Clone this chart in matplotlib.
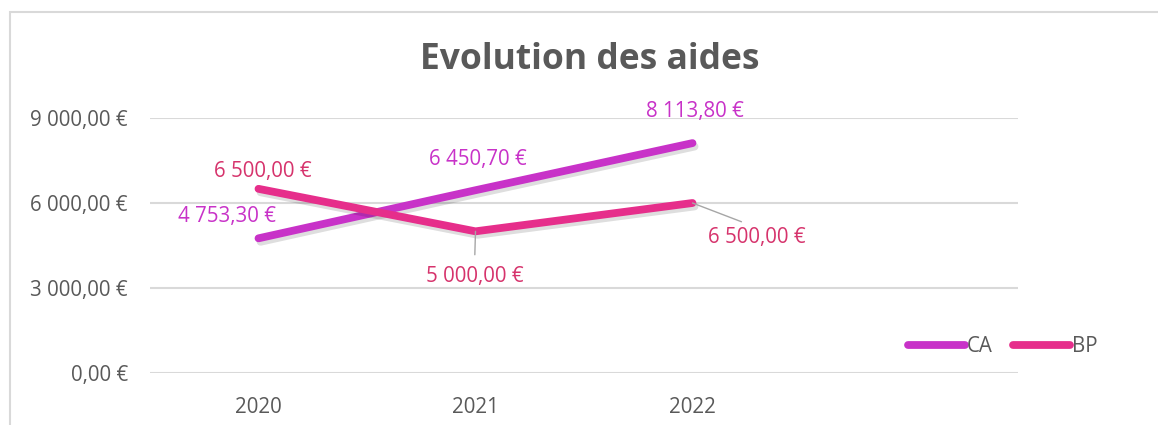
import matplotlib.pyplot as plt
import matplotlib.patheffects as pe
from matplotlib.patches import Rectangle
from matplotlib.ticker import FuncFormatter

# data
years = ["2020", "2021", "2022"]
ca_values = [4753.30, 6450.70, 8113.80]
bp_values = [6500.00, 5000.00, 6000.00]
ca_labels = ["4 753,30 €", "6 450,70 €", "8 113,80 €"]
bp_labels = ["6 500,00 €", "5 000,00 €", "6 500,00 €"]

ca_color = "#C832C8"
bp_color = "#E62E8B"
ca_text = "#C832C8"
bp_text = "#D6336C"
gray = "#595959"
grid = "#D9D9D9"

plt.rcParams['font.family'] = ['Open Sans', 'DejaVu Sans']

fig = plt.figure(figsize=(11.58, 4.25), dpi=100)
W, H = 1158, 425
ax = fig.add_axes([150 / W, (H - 373) / H, (1018 - 150) / W, (373 - 118) / H])

x = list(range(len(years)))
shadow = [pe.SimpleLineShadow(offset=(1.5, -2.5), shadow_color="k", alpha=0.13),
          pe.Normal()]
ax.plot(x, ca_values, color=ca_color, lw=5.6, solid_capstyle="round",
        label="CA", path_effects=shadow, zorder=3)
ax.plot(x, bp_values, color=bp_color, lw=5.6, solid_capstyle="round",
        label="BP", path_effects=shadow, zorder=3)

ax.set_xlim(-0.5, 3.5)
ax.set_ylim(0, 9000)
ax.set_yticks([0, 3000, 6000, 9000])
ax.set_xticks(x)
ax.set_xticklabels(years)


def euro(v, pos):
    s = f"{v:,.2f}".replace(",", " ").replace(".", ",")
    return s + " €"


fs = 14.8
ax.yaxis.set_major_formatter(FuncFormatter(euro))
ax.tick_params(axis="both", length=0, labelsize=fs, colors=gray)
ax.tick_params(axis="y", pad=16)
ax.tick_params(axis="x", pad=17)
for s in ax.spines.values():
    s.set_visible(False)
ax.grid(axis="y", color=grid, lw=1.5)
ax.set_axisbelow(True)

# data labels (offsets in pixels)
ca_off = [(-31, 22), (2, 31), (2, 32)]
bp_off = [(4, 17), (-1, -45), (64, -35)]
bp_leader = [False, True, True]

for i in x:
    ax.annotate(ca_labels[i], (i, ca_values[i]), xytext=ca_off[i],
                textcoords="offset pixels", ha="center", va="center",
                color=ca_text, fontsize=fs, annotation_clip=False)
    arrow = None
    if bp_leader[i]:
        arrow = dict(arrowstyle="-", color="#A6A6A6", lw=1,
                     relpos=(0.5, 1), shrinkA=6, shrinkB=0)
    ax.annotate(bp_labels[i], (i, bp_values[i]), xytext=bp_off[i],
                textcoords="offset pixels", ha="center", va="center",
                color=bp_text, fontsize=fs, annotation_clip=False,
                arrowprops=arrow)

fig.text(590 / W, 1 - 60 / H, "Evolution des aides", ha="center", va="center",
         fontsize=25.5, fontweight="bold", color=gray)

leg = ax.legend(loc="center left", bbox_to_anchor=((900 - 150) / (1018 - 150),
                (373 - 347) / (373 - 118)), ncol=2, frameon=False,
                fontsize=fs, handlelength=2.75, handletextpad=0.1,
                columnspacing=1.0, labelcolor=gray, borderaxespad=0)
for line in leg.get_lines():
    line.set_path_effects([pe.Normal()])

# chart border
fig.patches.append(Rectangle((10 / W, -0.1), 1.2, 1 - 12 / H + 0.1,
                             transform=fig.transFigure, fill=False,
                             edgecolor=grid, lw=1.5))

fig.savefig("out.png", dpi=100)
